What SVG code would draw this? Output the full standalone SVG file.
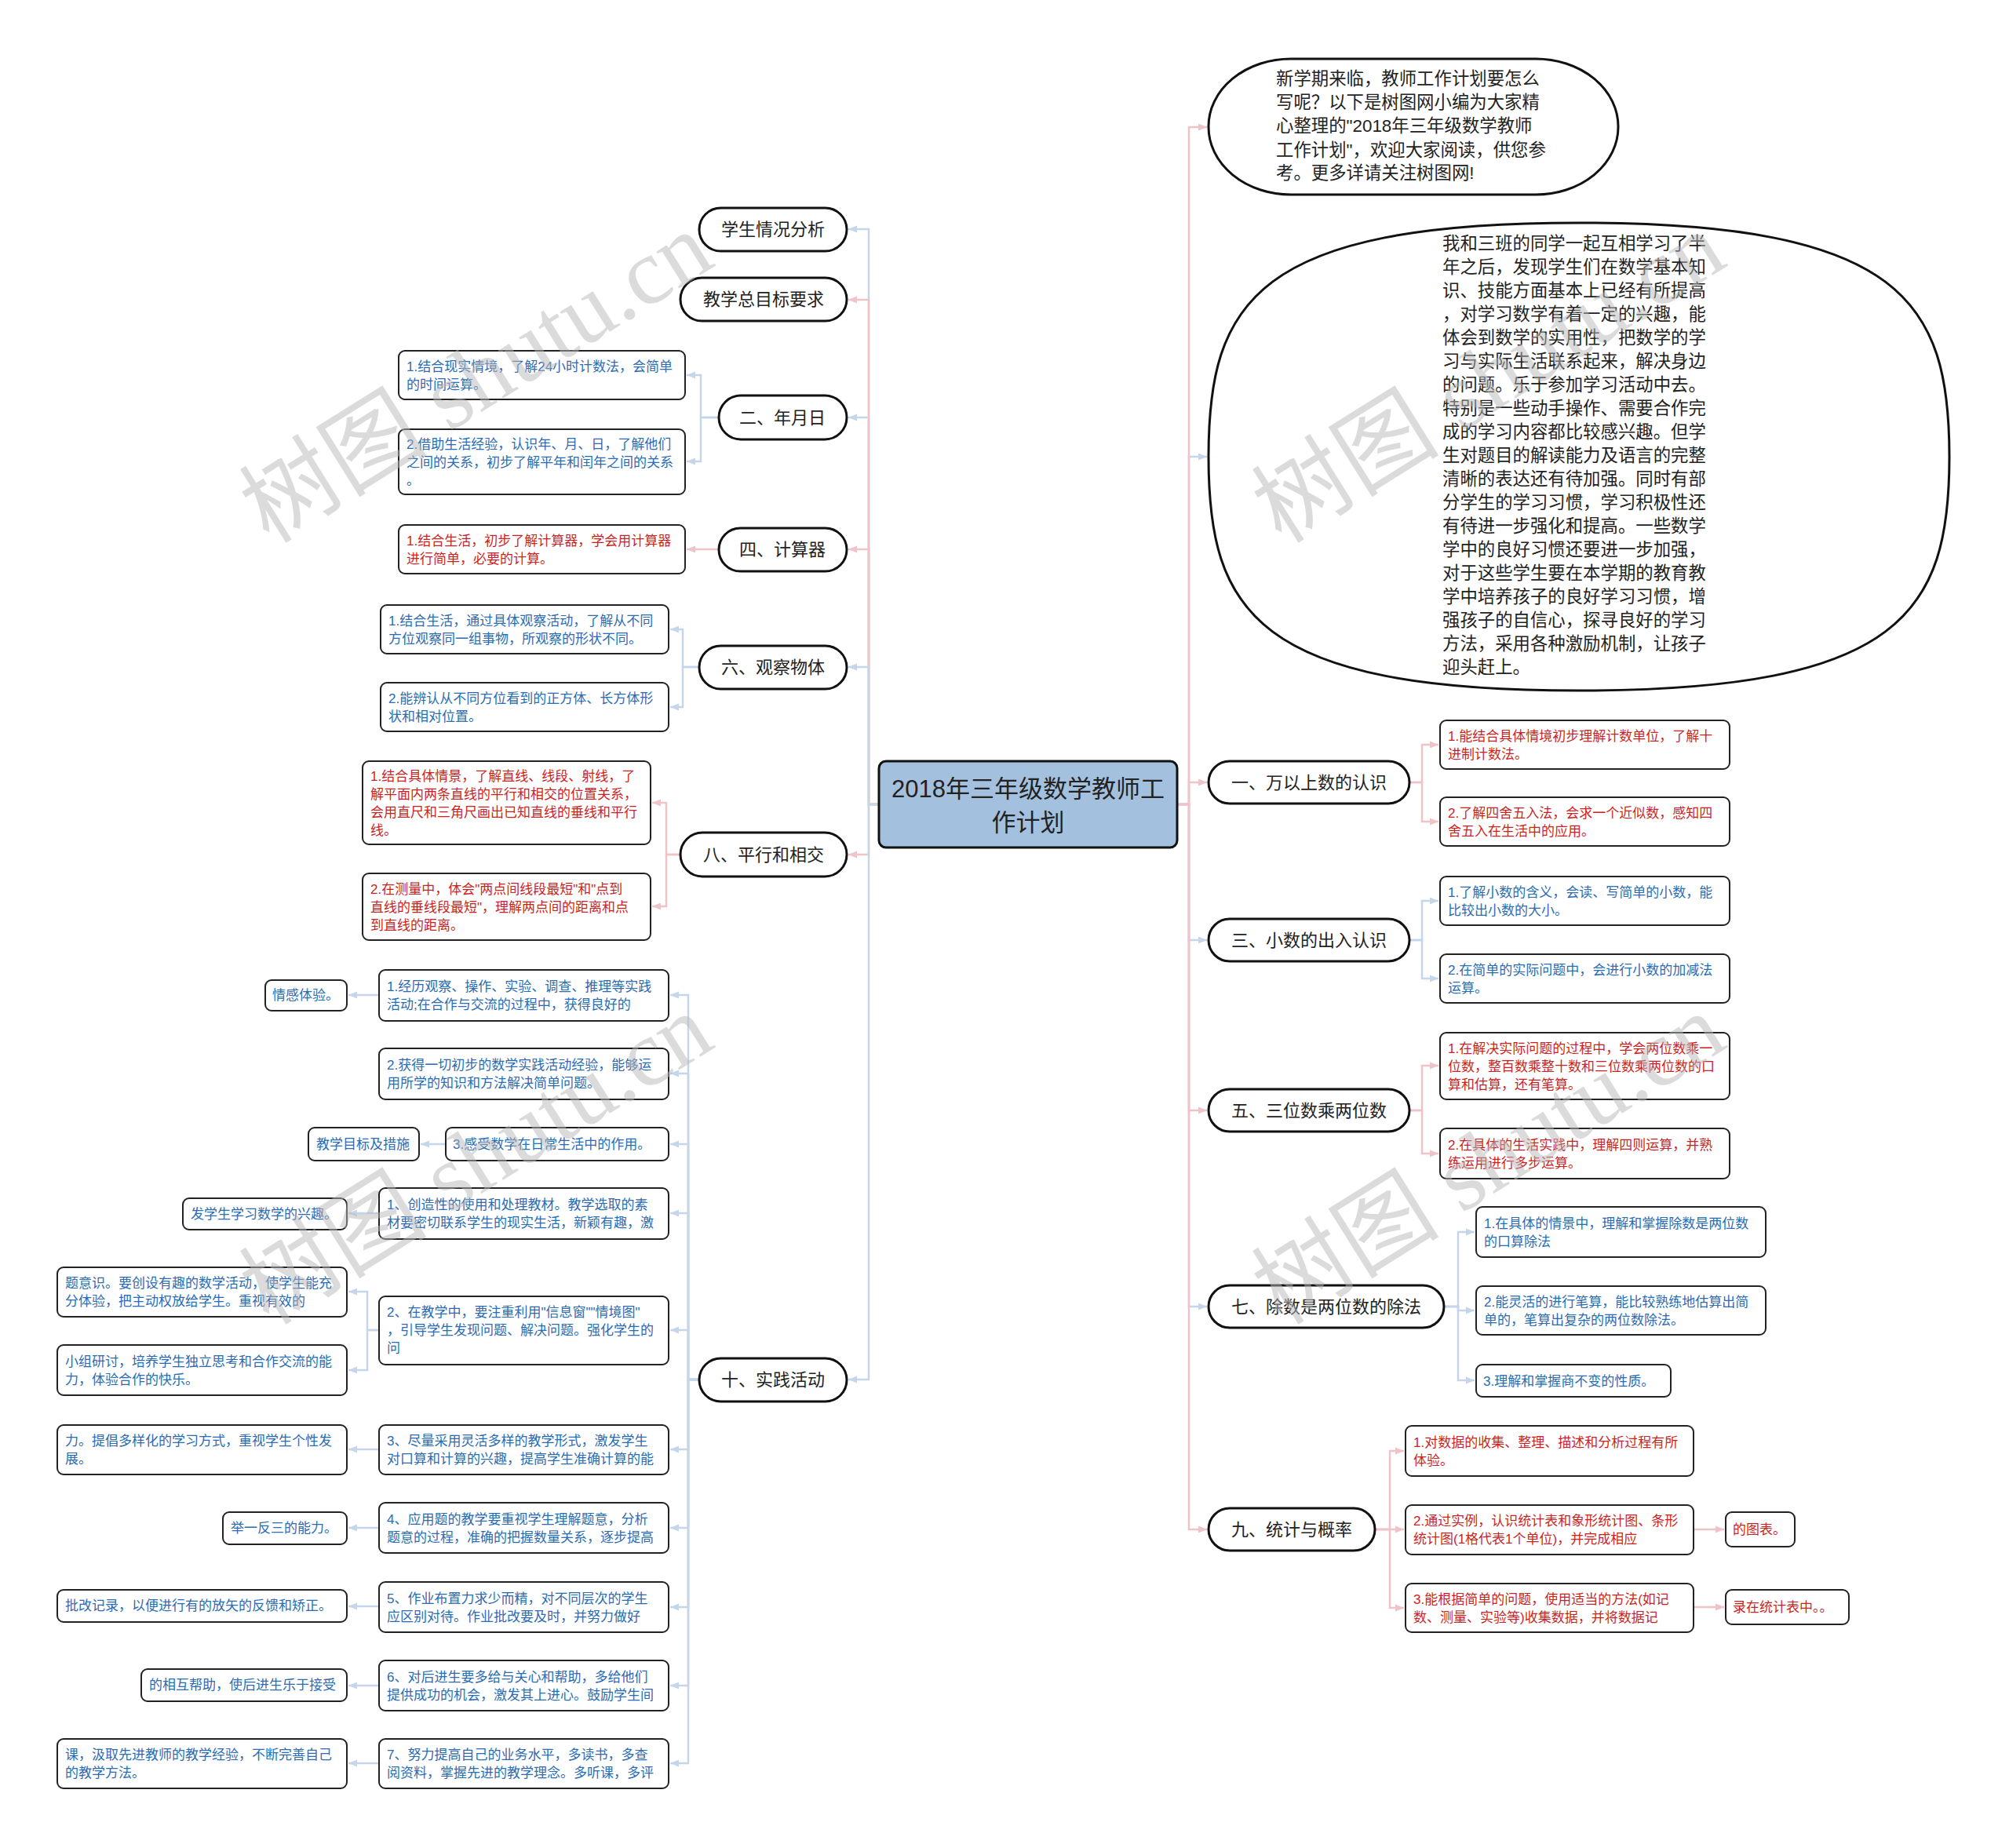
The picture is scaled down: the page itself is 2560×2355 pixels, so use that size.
<svg xmlns="http://www.w3.org/2000/svg" width="2560" height="2355" viewBox="0 0 2560 2355">
<defs>
<style>
text{font-family:"Liberation Sans","Noto Sans CJK SC",sans-serif}
.pill{fill:#fff;stroke:#111;stroke-width:3}
.box{fill:#fff;stroke:#222;stroke-width:2}
.tn{font-size:22px;fill:#222;text-anchor:middle}
.tb{font-size:17px}
.bl{fill:#2a6cb3}
.rd{fill:#cc1f1f}
.tk{font-size:22.4px;fill:#222}
.cb{fill:none;stroke:#c6d6ea;stroke-width:2.5}
.cp{fill:none;stroke:#efc3c8;stroke-width:2.5}
.cb{marker-end:url(#ab)}
.cp{marker-end:url(#ap)}
.wm{font-family:"Liberation Serif","Noto Sans CJK SC",serif;font-size:120px;fill:#b8b8b8;fill-opacity:0.5}
</style>
<marker id="ab" viewBox="0 0 10 10" refX="10" refY="5" markerWidth="11" markerHeight="11" markerUnits="userSpaceOnUse" orient="auto"><path d="M0,1 L10,5 L0,9 z" fill="#c6d6ea"/></marker>
<marker id="ap" viewBox="0 0 10 10" refX="10" refY="5" markerWidth="11" markerHeight="11" markerUnits="userSpaceOnUse" orient="auto"><path d="M0,1 L10,5 L0,9 z" fill="#efc3c8"/></marker>
</defs>
<rect width="2560" height="2355" fill="#fff"/>

<g id="connectors">
<path class="cb" d="M1120,1025 H1107 V292 H1081"/>
<path class="cb" d="M1120,1025 H1107 V532 H1081"/>
<path class="cp" d="M1120,1025 H1107 V382 H1081"/>
<path class="cp" d="M1120,1025 H1107 V700 H1081"/>
<path class="cb" d="M1120,1025 H1107 V850 H1081"/>
<path class="cp" d="M1120,1025 H1107 V1089 H1081"/>
<path class="cb" d="M1120,1025 H1107 V1758 H1081"/>
<path class="cb" d="M1500,1025 H1515 V582 H1538"/>
<path class="cb" d="M1500,1025 H1515 V1198 H1538"/>
<path class="cb" d="M1500,1025 H1515 V1665 H1538"/>
<path class="cp" d="M1500,1025 H1515 V162 H1538"/>
<path class="cp" d="M1500,1025 H1515 V997 H1538"/>
<path class="cp" d="M1500,1025 H1515 V1415 H1538"/>
<path class="cp" d="M1500,1025 H1515 V1949 H1538"/>
<path class="cb" d="M916,532 H893 V478 H875"/>
<path class="cb" d="M916,532 H893 V588 H875"/>
<path class="cp" d="M916,700 H875"/>
<path class="cb" d="M891,850 H870 V802 H854"/>
<path class="cb" d="M891,850 H870 V901 H854"/>
<path class="cp" d="M867,1089 H849 V1023 H831"/>
<path class="cp" d="M867,1089 H849 V1155 H831"/>
<path class="cb" d="M891,1758 H877 V1268 H854"/>
<path class="cb" d="M891,1758 H877 V1368 H854"/>
<path class="cb" d="M891,1758 H877 V1458 H854"/>
<path class="cb" d="M891,1758 H877 V1546 H854"/>
<path class="cb" d="M891,1758 H877 V1695 H854"/>
<path class="cb" d="M891,1758 H877 V1847 H854"/>
<path class="cb" d="M891,1758 H877 V1947 H854"/>
<path class="cb" d="M891,1758 H877 V2048 H854"/>
<path class="cb" d="M891,1758 H877 V2148 H854"/>
<path class="cb" d="M891,1758 H877 V2247 H854"/>
<path class="cb" d="M483,1268 H444"/>
<path class="cb" d="M568,1458 H536"/>
<path class="cb" d="M483,1546 H444"/>
<path class="cb" d="M483,1695 H468 V1646 H444"/>
<path class="cb" d="M483,1695 H468 V1746 H444"/>
<path class="cb" d="M483,1847 H444"/>
<path class="cb" d="M483,1947 H444"/>
<path class="cb" d="M483,2047 H444"/>
<path class="cb" d="M483,2148 H444"/>
<path class="cb" d="M483,2247 H444"/>
<path class="cp" d="M1796,997 H1812 V949 H1833"/>
<path class="cp" d="M1796,997 H1812 V1047 H1833"/>
<path class="cb" d="M1796,1198 H1812 V1148 H1833"/>
<path class="cb" d="M1796,1198 H1812 V1247 H1833"/>
<path class="cp" d="M1796,1415 H1812 V1358 H1833"/>
<path class="cp" d="M1796,1415 H1812 V1470 H1833"/>
<path class="cb" d="M1840,1665 H1858 V1570 H1879"/>
<path class="cb" d="M1840,1665 H1858 V1670 H1879"/>
<path class="cb" d="M1840,1665 H1858 V1759 H1879"/>
<path class="cp" d="M1752,1949 H1771 V1849 H1789"/>
<path class="cp" d="M1752,1949 H1771 V1949 H1789"/>
<path class="cp" d="M1752,1949 H1771 V2049 H1789"/>
<path class="cp" d="M2158,1949 H2197"/>
<path class="cp" d="M2158,2048 H2197"/>
</g>

<g id="root">
<rect x="1120" y="970" width="380" height="110" rx="9" fill="#a3c1de" stroke="#111" stroke-width="3"/>
<text x="1310" y="1016" font-size="31" fill="#222" text-anchor="middle">2018年三年级数学教师工</text>
<text x="1310" y="1059" font-size="31" fill="#222" text-anchor="middle">作计划</text>
</g>

<g id="intro">
<rect class="pill" x="1540" y="75" width="522" height="173" rx="105" ry="86"/>
<text class="tk"><tspan x="1626" y="108">新学期来临，教师工作计划要怎么</tspan><tspan x="1626" y="138">写呢？以下是树图网小编为大家精</tspan><tspan x="1626" y="168">心整理的"2018年三年级数学教师</tspan><tspan x="1626" y="199">工作计划"，欢迎大家阅读，供您参</tspan><tspan x="1626" y="228">考。更多详请关注树图网!</tspan></text>
</g>

<g id="analysis">
<path class="pill" d="M1540,582 C1540,385 1600,284 2012,284 C2424,284 2484,385 2484,582 C2484,779 2424,880 2012,880 C1600,880 1540,779 1540,582 Z"/>
<text class="tk"><tspan x="1838" y="318">我和三班的同学一起互相学习了半</tspan><tspan x="1838" y="348">年之后，发现学生们在数学基本知</tspan><tspan x="1838" y="378">识、技能方面基本上已经有所提高</tspan><tspan x="1838" y="408">，对学习数学有着一定的兴趣，能</tspan><tspan x="1838" y="438">体会到数学的实用性，把数学的学</tspan><tspan x="1838" y="468">习与实际生活联系起来，解决身边</tspan><tspan x="1838" y="498">的问题。乐于参加学习活动中去。</tspan><tspan x="1838" y="528">特别是一些动手操作、需要合作完</tspan><tspan x="1838" y="558">成的学习内容都比较感兴趣。但学</tspan><tspan x="1838" y="588">生对题目的解读能力及语言的完整</tspan><tspan x="1838" y="618">清晰的表达还有待加强。同时有部</tspan><tspan x="1838" y="648">分学生的学习习惯，学习积极性还</tspan><tspan x="1838" y="678">有待进一步强化和提高。一些数学</tspan><tspan x="1838" y="708">学中的良好习惯还要进一步加强，</tspan><tspan x="1838" y="738">对于这些学生要在本学期的教育教</tspan><tspan x="1838" y="768">学中培养孩子的良好学习习惯，增</tspan><tspan x="1838" y="798">强孩子的自信心，探寻良好的学习</tspan><tspan x="1838" y="828">方法，采用各种激励机制，让孩子</tspan><tspan x="1838" y="858">迎头赶上。</tspan></text>
</g>

<g id="n1">
<rect class="pill" x="1540" y="970" width="256" height="54" rx="27"/>
<text class="tn" x="1668" y="1005">一、万以上数的认识</text>
</g>
<g id="n1-1"><rect class="box" x="1835" y="918" width="369" height="62" rx="8"/>
<text class="tb rd"><tspan x="1845" y="944">1.能结合具体情境初步理解计数单位，了解十</tspan><tspan x="1845" y="967">进制计数法。</tspan></text></g>
<g id="n1-2"><rect class="box" x="1835" y="1016" width="369" height="62" rx="8"/>
<text class="tb rd"><tspan x="1845" y="1042">2.了解四舍五入法，会求一个近似数，感知四</tspan><tspan x="1845" y="1065">舍五入在生活中的应用。</tspan></text></g>

<g id="n3">
<rect class="pill" x="1540" y="1171" width="256" height="54" rx="27"/>
<text class="tn" x="1668" y="1206">三、小数的出入认识</text>
</g>
<g id="n3-1"><rect class="box" x="1835" y="1117" width="369" height="62" rx="8"/>
<text class="tb bl"><tspan x="1845" y="1143">1.了解小数的含义，会读、写简单的小数，能</tspan><tspan x="1845" y="1166">比较出小数的大小。</tspan></text></g>
<g id="n3-2"><rect class="box" x="1835" y="1216" width="369" height="62" rx="8"/>
<text class="tb bl"><tspan x="1845" y="1242">2.在简单的实际问题中，会进行小数的加减法</tspan><tspan x="1845" y="1265">运算。</tspan></text></g>

<g id="n5">
<rect class="pill" x="1540" y="1388" width="256" height="54" rx="27"/>
<text class="tn" x="1668" y="1423">五、三位数乘两位数</text>
</g>
<g id="n5-1"><rect class="box" x="1835" y="1316" width="369" height="85" rx="8"/>
<text class="tb rd"><tspan x="1845" y="1342">1.在解决实际问题的过程中，学会两位数乘一</tspan><tspan x="1845" y="1365">位数，整百数乘整十数和三位数乘两位数的口</tspan><tspan x="1845" y="1388">算和估算，还有笔算。</tspan></text></g>
<g id="n5-2"><rect class="box" x="1835" y="1438" width="369" height="64" rx="8"/>
<text class="tb rd"><tspan x="1845" y="1465">2.在具体的生活实践中，理解四则运算，并熟</tspan><tspan x="1845" y="1488">练运用进行多步运算。</tspan></text></g>

<g id="n7">
<rect class="pill" x="1540" y="1638" width="300" height="54" rx="27"/>
<text class="tn" x="1690" y="1673">七、除数是两位数的除法</text>
</g>
<g id="n7-1"><rect class="box" x="1881" y="1538" width="369" height="64" rx="8"/>
<text class="tb bl"><tspan x="1891" y="1565">1.在具体的情景中，理解和掌握除数是两位数</tspan><tspan x="1891" y="1588">的口算除法</tspan></text></g>
<g id="n7-2"><rect class="box" x="1881" y="1639" width="369" height="62" rx="8"/>
<text class="tb bl"><tspan x="1891" y="1665">2.能灵活的进行笔算，能比较熟练地估算出简</tspan><tspan x="1891" y="1688">单的，笔算出复杂的两位数除法。</tspan></text></g>
<g id="n7-3"><rect class="box" x="1881" y="1739" width="248" height="41" rx="8"/>
<text class="tb bl" x="1890" y="1766">3.理解和掌握商不变的性质。</text></g>

<g id="n9">
<rect class="pill" x="1540" y="1922" width="212" height="54" rx="27"/>
<text class="tn" x="1646" y="1957">九、统计与概率</text>
</g>
<g id="n9-1"><rect class="box" x="1791" y="1817" width="367" height="64" rx="8"/>
<text class="tb rd"><tspan x="1801" y="1844">1.对数据的收集、整理、描述和分析过程有所</tspan><tspan x="1801" y="1867">体验。</tspan></text></g>
<g id="n9-2"><rect class="box" x="1791" y="1918" width="367" height="63" rx="8"/>
<text class="tb rd"><tspan x="1801" y="1944">2.通过实例，认识统计表和象形统计图、条形</tspan><tspan x="1801" y="1967">统计图(1格代表1个单位)，并完成相应</tspan></text></g>
<g id="n9-3"><rect class="box" x="1791" y="2018" width="367" height="62" rx="8"/>
<text class="tb rd"><tspan x="1801" y="2044">3.能根据简单的问题，使用适当的方法(如记</tspan><tspan x="1801" y="2067">数、测量、实验等)收集数据，并将数据记</tspan></text></g>
<g id="n9-2-1"><rect class="box" x="2199" y="1927" width="88" height="44" rx="8"/>
<text class="tb rd" x="2208" y="1955">的图表。</text></g>
<g id="n9-3-1"><rect class="box" x="2199" y="2026" width="157" height="44" rx="8"/>
<text class="tb rd" x="2208" y="2054">录在统计表中。。</text></g>

<g id="s1"><rect class="pill" x="891" y="265" width="188" height="55" rx="27.5"/>
<text class="tn" x="985" y="300">学生情况分析</text></g>
<g id="s2"><rect class="pill" x="867" y="354" width="212" height="55" rx="27.5"/>
<text class="tn" x="973" y="389">教学总目标要求</text></g>

<g id="n2"><rect class="pill" x="916" y="504" width="163" height="56" rx="28"/>
<text class="tn" x="997" y="540">二、年月日</text></g>
<g id="n2-1"><rect class="box" x="508" y="447" width="365" height="62" rx="8"/>
<text class="tb bl"><tspan x="518" y="473">1.结合现实情境，了解24小时计数法，会简单</tspan><tspan x="518" y="496">的时间运算。</tspan></text></g>
<g id="n2-2"><rect class="box" x="508" y="547" width="365" height="83" rx="8"/>
<text class="tb bl"><tspan x="518" y="572">2.借助生活经验，认识年、月、日，了解他们</tspan><tspan x="518" y="595">之间的关系，初步了解平年和闰年之间的关系</tspan><tspan x="518" y="618">。</tspan></text></g>

<g id="n4"><rect class="pill" x="916" y="673" width="163" height="55" rx="27.5"/>
<text class="tn" x="997" y="708">四、计算器</text></g>
<g id="n4-1"><rect class="box" x="508" y="669" width="365" height="62" rx="8"/>
<text class="tb rd"><tspan x="518" y="695">1.结合生活，初步了解计算器，学会用计算器</tspan><tspan x="518" y="718">进行简单，必要的计算。</tspan></text></g>

<g id="n6"><rect class="pill" x="891" y="823" width="188" height="55" rx="27.5"/>
<text class="tn" x="985" y="858">六、观察物体</text></g>
<g id="n6-1"><rect class="box" x="485" y="771" width="367" height="62" rx="8"/>
<text class="tb bl"><tspan x="495" y="797">1.结合生活，通过具体观察活动，了解从不同</tspan><tspan x="495" y="820">方位观察同一组事物，所观察的形状不同。</tspan></text></g>
<g id="n6-2"><rect class="box" x="485" y="870" width="367" height="62" rx="8"/>
<text class="tb bl"><tspan x="495" y="896">2.能辨认从不同方位看到的正方体、长方体形</tspan><tspan x="495" y="919">状和相对位置。</tspan></text></g>

<g id="n8"><rect class="pill" x="867" y="1061" width="212" height="56" rx="28"/>
<text class="tn" x="973" y="1097">八、平行和相交</text></g>
<g id="n8-1"><rect class="box" x="462" y="970" width="367" height="106" rx="8"/>
<text class="tb rd"><tspan x="472" y="995">1.结合具体情景，了解直线、线段、射线，了</tspan><tspan x="472" y="1018">解平面内两条直线的平行和相交的位置关系，</tspan><tspan x="472" y="1041">会用直尺和三角尺画出已知直线的垂线和平行</tspan><tspan x="472" y="1064">线。</tspan></text></g>
<g id="n8-2"><rect class="box" x="462" y="1113" width="367" height="85" rx="8"/>
<text class="tb rd"><tspan x="472" y="1139">2.在测量中，体会"两点间线段最短"和"点到</tspan><tspan x="472" y="1162">直线的垂线段最短"，理解两点间的距离和点</tspan><tspan x="472" y="1185">到直线的距离。</tspan></text></g>

<g id="n10"><rect class="pill" x="891" y="1731" width="188" height="55" rx="27.5"/>
<text class="tn" x="985" y="1766">十、实践活动</text></g>
<g id="n10-1"><rect class="box" x="483" y="1236" width="369" height="65" rx="8"/>
<text class="tb bl"><tspan x="493" y="1263">1.经历观察、操作、实验、调查、推理等实践</tspan><tspan x="493" y="1286">活动;在合作与交流的过程中，获得良好的</tspan></text></g>
<g id="n10-1-1"><rect class="box" x="338" y="1249" width="104" height="39" rx="8"/>
<text class="tb bl" x="347" y="1274">情感体验。</text></g>
<g id="n10-2"><rect class="box" x="483" y="1336" width="369" height="65" rx="8"/>
<text class="tb bl"><tspan x="493" y="1363">2.获得一切初步的数学实践活动经验，能够运</tspan><tspan x="493" y="1386">用所学的知识和方法解决简单问题。</tspan></text></g>
<g id="n10-3"><rect class="box" x="568" y="1437" width="284" height="42" rx="8"/>
<text class="tb bl" x="577" y="1464">3.感受数学在日常生活中的作用。</text></g>
<g id="n10-3-1"><rect class="box" x="393" y="1437" width="141" height="42" rx="8"/>
<text class="tb bl" x="403" y="1464">教学目标及措施</text></g>
<g id="n10-4"><rect class="box" x="483" y="1514" width="369" height="65" rx="8"/>
<text class="tb bl"><tspan x="493" y="1541">1、创造性的使用和处理教材。教学选取的素</tspan><tspan x="493" y="1564">材要密切联系学生的现实生活，新颖有趣，激</tspan></text></g>
<g id="n10-4-1"><rect class="box" x="233" y="1527" width="209" height="40" rx="8"/>
<text class="tb bl" x="243" y="1553">发学生学习数学的兴趣。</text></g>
<g id="n10-5"><rect class="box" x="483" y="1652" width="369" height="87" rx="8"/>
<text class="tb bl"><tspan x="493" y="1678">2、在教学中，要注重利用"信息窗""情境图"</tspan><tspan x="493" y="1701">，引导学生发现问题、解决问题。强化学生的</tspan><tspan x="493" y="1724">问</tspan></text></g>
<g id="n10-5-1"><rect class="box" x="73" y="1615" width="369" height="63" rx="8"/>
<text class="tb bl"><tspan x="83" y="1641">题意识。要创设有趣的数学活动，使学生能充</tspan><tspan x="83" y="1664">分体验，把主动权放给学生。重视有效的</tspan></text></g>
<g id="n10-5-2"><rect class="box" x="73" y="1714" width="369" height="64" rx="8"/>
<text class="tb bl"><tspan x="83" y="1741">小组研讨，培养学生独立思考和合作交流的能</tspan><tspan x="83" y="1764">力，体验合作的快乐。</tspan></text></g>
<g id="n10-6"><rect class="box" x="483" y="1816" width="369" height="63" rx="8"/>
<text class="tb bl"><tspan x="493" y="1842">3、尽量采用灵活多样的教学形式，激发学生</tspan><tspan x="493" y="1865">对口算和计算的兴趣，提高学生准确计算的能</tspan></text></g>
<g id="n10-6-1"><rect class="box" x="73" y="1816" width="369" height="63" rx="8"/>
<text class="tb bl"><tspan x="83" y="1842">力。提倡多样化的学习方式，重视学生个性发</tspan><tspan x="83" y="1865">展。</tspan></text></g>
<g id="n10-7"><rect class="box" x="483" y="1915" width="369" height="64" rx="8"/>
<text class="tb bl"><tspan x="493" y="1942">4、应用题的教学要重视学生理解题意，分析</tspan><tspan x="493" y="1965">题意的过程，准确的把握数量关系，逐步提高</tspan></text></g>
<g id="n10-7-1"><rect class="box" x="284" y="1927" width="158" height="41" rx="8"/>
<text class="tb bl" x="294" y="1953">举一反三的能力。</text></g>
<g id="n10-8"><rect class="box" x="483" y="2016" width="369" height="64" rx="8"/>
<text class="tb bl"><tspan x="493" y="2043">5、作业布置力求少而精，对不同层次的学生</tspan><tspan x="493" y="2066">应区别对待。作业批改要及时，并努力做好</tspan></text></g>
<g id="n10-8-1"><rect class="box" x="73" y="2026" width="369" height="41" rx="8"/>
<text class="tb bl" x="83" y="2052">批改记录，以便进行有的放矢的反馈和矫正。</text></g>
<g id="n10-9"><rect class="box" x="483" y="2116" width="369" height="64" rx="8"/>
<text class="tb bl"><tspan x="493" y="2143">6、对后进生要多给与关心和帮助，多给他们</tspan><tspan x="493" y="2166">提供成功的机会，激发其上进心。鼓励学生间</tspan></text></g>
<g id="n10-9-1"><rect class="box" x="180" y="2127" width="262" height="41" rx="8"/>
<text class="tb bl" x="190" y="2153">的相互帮助，使后进生乐于接受</text></g>
<g id="n10-10"><rect class="box" x="483" y="2216" width="369" height="63" rx="8"/>
<text class="tb bl"><tspan x="493" y="2242">7、努力提高自己的业务水平，多读书，多查</tspan><tspan x="493" y="2265">阅资料，掌握先进的教学理念。多听课，多评</tspan></text></g>
<g id="n10-10-1"><rect class="box" x="73" y="2216" width="369" height="63" rx="8"/>
<text class="tb bl"><tspan x="83" y="2242">课，汲取先进教师的教学经验，不断完善自己</tspan><tspan x="83" y="2265">的教学方法。</tspan></text></g>

<g id="watermarks">
<text class="wm" transform="translate(343,694) rotate(-32)">树图 shutu.cn</text>
<text class="wm" transform="translate(1633,694) rotate(-32)">树图 shutu.cn</text>
<text class="wm" transform="translate(343,1690) rotate(-32)">树图 shutu.cn</text>
<text class="wm" transform="translate(1633,1690) rotate(-32)">树图 shutu.cn</text>
</g>
</svg>
